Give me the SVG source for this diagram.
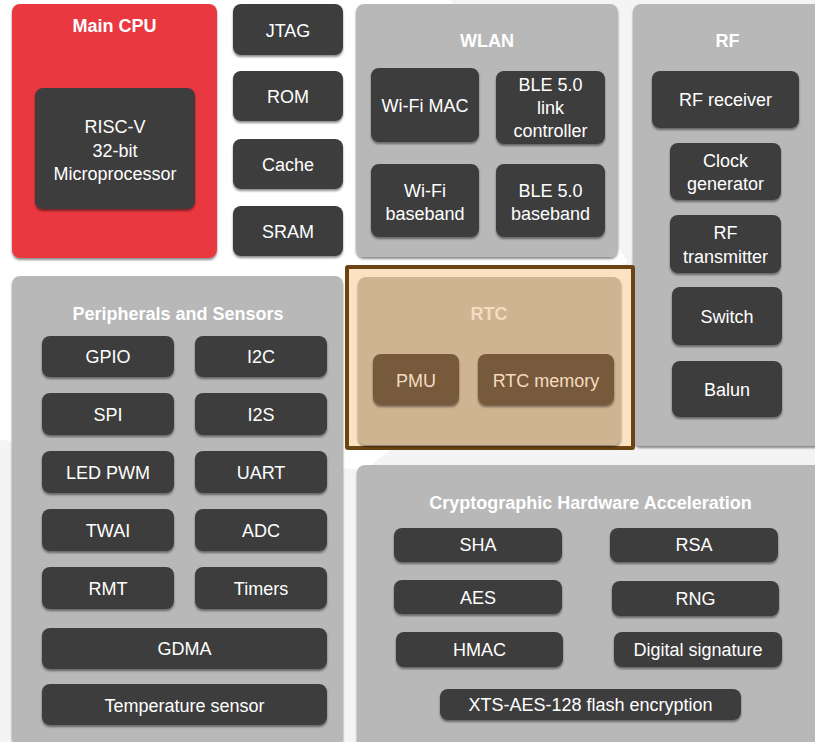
<svg xmlns="http://www.w3.org/2000/svg" width="815" height="742" viewBox="0 0 815 742">
<defs>
<filter id="sh" x="-10%" y="-10%" width="120%" height="130%">
<feDropShadow dx="0" dy="2" stdDeviation="1.3" flood-color="#000" flood-opacity="0.45"/>
</filter>
<style>
.cont{fill:#b8b8b8;filter:url(#sh)}
.box{fill:#3c3c3c;filter:url(#sh)}
.rbox{fill:#765a3b;filter:url(#sh)}
.t{font-family:"Liberation Sans",Arial,sans-serif;font-size:18px;fill:#ffffff;text-anchor:middle}
.h{font-family:"Liberation Sans",Arial,sans-serif;font-size:18px;font-weight:bold;fill:#ffffff;text-anchor:middle}
.rt{fill:#f5dcc0}
</style>
</defs>
<rect x="0" y="0" width="815" height="742" fill="#ffffff"/>
<polygon points="450,0 815,0 815,742 0,742 0,440 365,470 628,262" fill="#f4f4f4"/>

<g id="main-cpu">
<rect x="12" y="4" width="205" height="254" rx="8" fill="#e9393f" filter="url(#sh)"/>
<text class="h" x="114.5" y="32">Main CPU</text>
<g id="risc-v">
<rect class="box" x="35" y="88" width="160" height="121" rx="8"/>
<text class="t" x="115" y="133">RISC-V</text>
<text class="t" x="115" y="157">32-bit</text>
<text class="t" x="115" y="180">Microprocessor</text>
</g>
</g>

<g id="jtag"><rect class="box" x="233" y="4" width="110" height="51" rx="8"/><text class="t" x="288" y="37">JTAG</text></g>
<g id="rom"><rect class="box" x="233" y="71" width="110" height="50" rx="8"/><text class="t" x="288" y="103">ROM</text></g>
<g id="cache"><rect class="box" x="233" y="139" width="110" height="50" rx="8"/><text class="t" x="288" y="171">Cache</text></g>
<g id="sram"><rect class="box" x="233" y="206" width="110" height="50" rx="8"/><text class="t" x="288" y="238">SRAM</text></g>

<g id="wlan">
<rect class="cont" x="356" y="4" width="262" height="253" rx="8"/>
<text class="h" x="487" y="47">WLAN</text>
<g id="wifi-mac"><rect class="box" x="371" y="68" width="108" height="74" rx="8"/><text class="t" x="425" y="112">Wi-Fi MAC</text></g>
<g id="ble-link"><rect class="box" x="496" y="71" width="109" height="73" rx="8"/><text class="t" x="550.5" y="91">BLE 5.0</text><text class="t" x="550.5" y="114">link</text><text class="t" x="550.5" y="137">controller</text></g>
<g id="wifi-bb"><rect class="box" x="371" y="164" width="108" height="73" rx="8"/><text class="t" x="425" y="197">Wi-Fi</text><text class="t" x="425" y="220">baseband</text></g>
<g id="ble-bb"><rect class="box" x="496" y="164" width="109" height="73" rx="8"/><text class="t" x="550.5" y="197">BLE 5.0</text><text class="t" x="550.5" y="220">baseband</text></g>
</g>

<g id="rf">
<rect class="cont" x="633" y="4" width="195" height="442" rx="8"/>
<text class="h" x="727.5" y="47">RF</text>
<g id="rf-rx"><rect class="box" x="652" y="71" width="147" height="57" rx="8"/><text class="t" x="725.5" y="106">RF receiver</text></g>
<g id="clock"><rect class="box" x="670" y="143" width="111" height="57" rx="8"/><text class="t" x="725.5" y="167">Clock</text><text class="t" x="725.5" y="190">generator</text></g>
<g id="rf-tx"><rect class="box" x="670" y="215" width="111" height="58" rx="8"/><text class="t" x="725.5" y="239">RF</text><text class="t" x="725.5" y="263">transmitter</text></g>
<g id="switch"><rect class="box" x="672" y="287" width="110" height="58" rx="8"/><text class="t" x="727" y="323">Switch</text></g>
<g id="balun"><rect class="box" x="672" y="361" width="110" height="56" rx="8"/><text class="t" x="727" y="396">Balun</text></g>
</g>

<g id="rtc">
<rect x="347" y="267" width="286" height="181" fill="#fbdfbd" fill-opacity="0.92" stroke="#6b4413" stroke-width="4" rx="1"/>
<rect x="358" y="277" width="263" height="168" rx="8" fill="#cfb492" filter="url(#sh)"/>
<text class="h rt" x="489" y="320">RTC</text>
<g id="pmu"><rect class="rbox" x="373" y="354" width="86" height="51" rx="8"/><text class="t rt" x="416" y="387">PMU</text></g>
<g id="rtc-mem"><rect class="rbox" x="478" y="354" width="136" height="51" rx="8"/><text class="t rt" x="546" y="387">RTC memory</text></g>
</g>

<g id="peripherals">
<rect class="cont" x="12" y="276" width="331" height="470" rx="8"/>
<text class="h" x="178" y="320">Peripherals and Sensors</text>
<g id="gpio"><rect class="box" x="42" y="336" width="132" height="41" rx="8"/><text class="t" x="108" y="363">GPIO</text></g>
<g id="i2c"><rect class="box" x="195" y="336" width="132" height="41" rx="8"/><text class="t" x="261" y="363">I2C</text></g>
<g id="spi"><rect class="box" x="42" y="393" width="132" height="42" rx="8"/><text class="t" x="108" y="421">SPI</text></g>
<g id="i2s"><rect class="box" x="195" y="393" width="132" height="42" rx="8"/><text class="t" x="261" y="421">I2S</text></g>
<g id="ledpwm"><rect class="box" x="42" y="451" width="132" height="42" rx="8"/><text class="t" x="108" y="479">LED PWM</text></g>
<g id="uart"><rect class="box" x="195" y="451" width="132" height="42" rx="8"/><text class="t" x="261" y="479">UART</text></g>
<g id="twai"><rect class="box" x="42" y="509" width="132" height="42" rx="8"/><text class="t" x="108" y="537">TWAI</text></g>
<g id="adc"><rect class="box" x="195" y="509" width="132" height="42" rx="8"/><text class="t" x="261" y="537">ADC</text></g>
<g id="rmt"><rect class="box" x="42" y="567" width="132" height="42" rx="8"/><text class="t" x="108" y="595">RMT</text></g>
<g id="timers"><rect class="box" x="195" y="567" width="132" height="42" rx="8"/><text class="t" x="261" y="595">Timers</text></g>
<g id="gdma"><rect class="box" x="42" y="628" width="285" height="41" rx="8"/><text class="t" x="184.5" y="655">GDMA</text></g>
<g id="temp"><rect class="box" x="42" y="684" width="285" height="41" rx="8"/><text class="t" x="184.5" y="712">Temperature sensor</text></g>
</g>

<g id="crypto">
<rect class="cont" x="357" y="465" width="470" height="285" rx="8"/>
<text class="h" x="590.5" y="509">Cryptographic Hardware Acceleration</text>
<g id="sha"><rect class="box" x="394" y="528" width="168" height="34" rx="8"/><text class="t" x="478" y="551">SHA</text></g>
<g id="rsa"><rect class="box" x="610" y="528" width="168" height="34" rx="8"/><text class="t" x="694" y="551">RSA</text></g>
<g id="aes"><rect class="box" x="394" y="580" width="168" height="34" rx="8"/><text class="t" x="478" y="603.5">AES</text></g>
<g id="rng"><rect class="box" x="612" y="581" width="167" height="35" rx="8"/><text class="t" x="695.5" y="605">RNG</text></g>
<g id="hmac"><rect class="box" x="396" y="632" width="167" height="35" rx="8"/><text class="t" x="479.5" y="656">HMAC</text></g>
<g id="dsig"><rect class="box" x="614" y="632" width="168" height="35" rx="8"/><text class="t" x="698" y="656">Digital signature</text></g>
<g id="xts"><rect class="box" x="440" y="689" width="301" height="31" rx="8"/><text class="t" x="590.5" y="711">XTS-AES-128 flash encryption</text></g>
</g>

<g id="connectors"></g>
</svg>
